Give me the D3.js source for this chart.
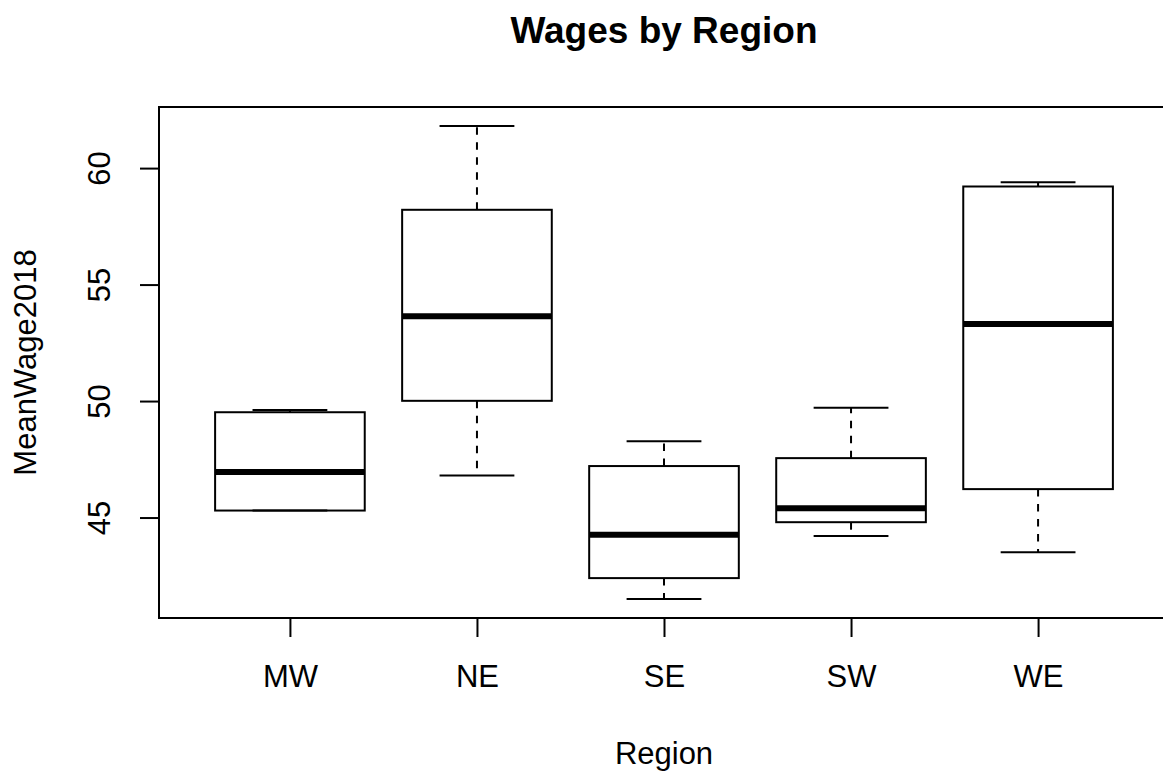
<!DOCTYPE html>
<html>
<head>
<meta charset="utf-8">
<script src="https://cdn.jsdelivr.net/npm/d3@7"></script>
<style>
  html, body { margin: 0; padding: 0; background: #fff; }
  svg { display: block; }
  text { font-family: "Liberation Sans", Arial, Helvetica, sans-serif; fill: #000; }
</style>
</head>
<body>
<svg id="chart" width="1163" height="773"></svg>
<script>
// Five-number summaries of MeanWage2018 for each region
const categories = ["MW", "NE", "SE", "SW", "WE"];
const whiskerLow = [45.30, 46.80, 41.50, 44.21, 43.51];
const quartile1  = [45.30, 50.01, 42.40, 44.80, 46.22];
const medians    = [46.95, 53.64, 44.26, 45.40, 53.31];
const quartile3  = [49.52, 58.21, 47.21, 47.55, 59.21];
const whiskerHigh = [49.62, 61.81, 48.28, 49.71, 59.39];
const yTicks = [45, 50, 55, 60];

const titleText = "Wages by Region";
const xLabel = "Region";
const yLabel = "MeanWage2018";

const svg = d3.select("#chart");

// plot region
const plotLeft = 159, plotRight = 1169, plotTop = 107, plotBottom = 618;

// x: group positions 1..n with 4% padding around [0.5, n + 0.5]
const n = categories.length;
const xr = [0.5, n + 0.5];
const xpad = 0.04 * (xr[1] - xr[0]);
const xLin = d3.scaleLinear().domain([xr[0] - xpad, xr[1] + xpad]).range([plotLeft, plotRight]);
const x = d3.scalePoint().domain(categories).range([xLin(1), xLin(n)]);
const step = xLin(2) - xLin(1);
const boxW = 0.8 * step;
const capW = 0.5 * boxW;

// y: data range with 4% padding
const yMin = d3.min(whiskerLow), yMax = d3.max(whiskerHigh);
const ypad = 0.04 * (yMax - yMin);
const y = d3.scaleLinear().domain([yMin - ypad, yMax + ypad]).range([plotBottom, plotTop]);

const lw = 2;
const g = svg.append("g");

const rows = categories.map((c, i) => ({
  c, lo: whiskerLow[i], q1: quartile1[i], med: medians[i], q3: quartile3[i], hi: whiskerHigh[i]
}));

const box = g.selectAll("g.box").data(rows).join("g").attr("class", "box");

// dashed whiskers, drawn from the box edges outwards
box.append("line")
  .attr("x1", d => x(d.c)).attr("x2", d => x(d.c))
  .attr("y1", d => y(d.q3)).attr("y2", d => y(d.hi))
  .attr("stroke", "#000").attr("stroke-width", lw).attr("stroke-dasharray", "7.5,7.5");
box.append("line")
  .attr("x1", d => x(d.c)).attr("x2", d => x(d.c))
  .attr("y1", d => y(d.q1)).attr("y2", d => y(d.lo))
  .attr("stroke", "#000").attr("stroke-width", lw).attr("stroke-dasharray", "7.5,7.5");

// staples
box.append("line")
  .attr("x1", d => x(d.c) - capW / 2).attr("x2", d => x(d.c) + capW / 2)
  .attr("y1", d => y(d.hi)).attr("y2", d => y(d.hi))
  .attr("stroke", "#000").attr("stroke-width", lw);
box.append("line")
  .attr("x1", d => x(d.c) - capW / 2).attr("x2", d => x(d.c) + capW / 2)
  .attr("y1", d => y(d.lo)).attr("y2", d => y(d.lo))
  .attr("stroke", "#000").attr("stroke-width", lw);

// boxes
box.append("rect")
  .attr("x", d => x(d.c) - boxW / 2)
  .attr("width", boxW)
  .attr("y", d => y(d.q3))
  .attr("height", d => y(d.q1) - y(d.q3))
  .attr("fill", "none").attr("stroke", "#000").attr("stroke-width", lw);

// medians
box.append("line")
  .attr("x1", d => x(d.c) - boxW / 2).attr("x2", d => x(d.c) + boxW / 2)
  .attr("y1", d => y(d.med)).attr("y2", d => y(d.med))
  .attr("stroke", "#000").attr("stroke-width", 6);

// frame
svg.append("rect")
  .attr("x", plotLeft).attr("y", plotTop)
  .attr("width", plotRight - plotLeft).attr("height", plotBottom - plotTop)
  .attr("fill", "none").attr("stroke", "#000").attr("stroke-width", lw);

// x axis
const xAxis = svg.append("g")
  .attr("transform", `translate(0,${plotBottom})`)
  .call(d3.axisBottom(x).tickSize(19).tickPadding(28));
xAxis.select(".domain").remove();
xAxis.selectAll(".tick line").attr("stroke-width", lw);
xAxis.selectAll(".tick text").attr("font-size", 31).attr("font-family", null);

// y axis with rotated labels
const yAxis = svg.append("g")
  .attr("transform", `translate(${plotLeft},0)`)
  .call(d3.axisLeft(y).tickValues(yTicks).tickSize(19).tickFormat(d3.format("d")));
yAxis.select(".domain").remove();
yAxis.selectAll(".tick line").attr("stroke-width", lw);
yAxis.selectAll(".tick text")
  .attr("font-size", 31).attr("font-family", null)
  .attr("x", null).attr("dy", null)
  .attr("text-anchor", "middle")
  .attr("transform", "translate(-49,0) rotate(-90)");

// title and axis labels
const cx = (plotLeft + plotRight) / 2;
svg.append("text")
  .attr("x", cx).attr("y", 43)
  .attr("text-anchor", "middle")
  .attr("font-size", 37).attr("font-weight", "bold")
  .text(titleText);
svg.append("text")
  .attr("x", cx).attr("y", 764)
  .attr("text-anchor", "middle")
  .attr("font-size", 31)
  .text(xLabel);
svg.append("text")
  .attr("transform", `translate(36,${(plotTop + plotBottom) / 2}) rotate(-90)`)
  .attr("text-anchor", "middle")
  .attr("font-size", 31)
  .text(yLabel);
</script>
</body>
</html>
